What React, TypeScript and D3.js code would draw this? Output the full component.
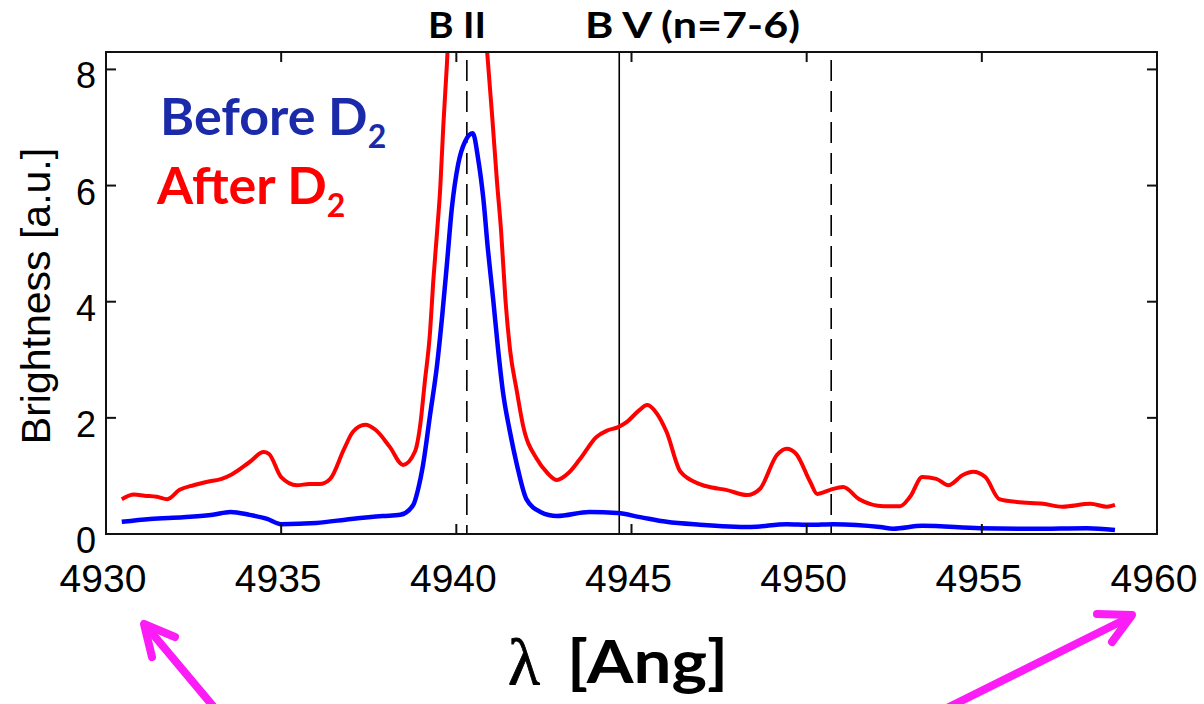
import React from "react";
import * as d3 from "d3";

const xTicks = [4930, 4935, 4940, 4945, 4950, 4955, 4960];
const yTicks = [0, 2, 4, 6, 8];

const redLambda = [4930.45, 4930.8, 4931.1, 4931.45, 4931.75, 4932.1, 4932.5, 4932.9, 4933.3, 4933.6, 4934.1, 4934.5, 4934.65, 4935.0, 4935.45, 4935.8, 4936.1, 4936.4, 4936.8, 4937.05, 4937.4, 4937.7, 4938.1, 4938.48, 4938.82, 4938.97, 4939.1, 4939.25, 4939.34, 4939.45, 4939.54, 4939.63, 4939.73, 4939.85, 4940.3, 4940.75, 4940.88, 4941.02, 4941.16, 4941.28, 4941.4, 4941.53, 4941.73, 4941.9, 4942.3, 4942.6, 4942.87, 4943.2, 4943.53, 4944.0, 4944.3, 4944.62, 4944.87, 4945.2, 4945.45, 4945.73, 4946.0, 4946.4, 4946.95, 4947.3, 4947.7, 4948.3, 4948.67, 4949.15, 4949.43, 4949.7, 4950.1, 4950.3, 4950.67, 4951.04, 4951.5, 4952.2, 4952.67, 4952.95, 4953.3, 4953.7, 4954.04, 4954.47, 4954.75, 4955.1, 4955.5, 4956.0, 4956.75, 4957.3, 4958.1, 4958.57, 4958.8];
const redValues = [0.60, 0.68, 0.66, 0.64, 0.60, 0.76, 0.84, 0.90, 0.95, 1.03, 1.24, 1.41, 1.38, 0.98, 0.84, 0.86, 0.86, 0.95, 1.47, 1.76, 1.88, 1.79, 1.50, 1.19, 1.42, 1.88, 2.62, 3.48, 4.34, 5.2, 5.95, 7.05, 8.08, 9.5, 11.0, 9.5, 8.3, 7.22, 6.07, 5.2, 4.05, 3.19, 2.45, 1.88, 1.29, 1.05, 0.93, 1.05, 1.29, 1.67, 1.78, 1.84, 1.93, 2.12, 2.22, 2.07, 1.76, 1.07, 0.86, 0.80, 0.76, 0.67, 0.78, 1.36, 1.47, 1.38, 0.90, 0.69, 0.76, 0.81, 0.60, 0.48, 0.48, 0.64, 0.98, 0.95, 0.84, 1.02, 1.07, 0.98, 0.60, 0.55, 0.52, 0.47, 0.52, 0.47, 0.50];

const blueLambda = [4930.45, 4931.26, 4932.2, 4933.05, 4933.55, 4934.1, 4934.6, 4935.0, 4936.0, 4937.0, 4937.9, 4938.4, 4938.77, 4938.9, 4939.05, 4939.25, 4939.45, 4939.6, 4939.73, 4939.87, 4940.05, 4940.25, 4940.47, 4940.62, 4940.77, 4940.9, 4941.05, 4941.19, 4941.33, 4941.53, 4941.73, 4942.0, 4942.4, 4942.87, 4943.8, 4944.6, 4945.25, 4946.0, 4946.95, 4948.4, 4949.43, 4950.1, 4950.76, 4952.1, 4952.47, 4953.3, 4954.95, 4956.47, 4958.0, 4958.8];
const blueValues = [0.21, 0.26, 0.29, 0.33, 0.38, 0.33, 0.26, 0.17, 0.19, 0.26, 0.31, 0.33, 0.50, 0.75, 1.19, 2.05, 2.91, 3.78, 4.64, 5.6, 6.36, 6.76, 6.9, 6.47, 5.78, 4.91, 4.05, 3.19, 2.45, 1.76, 1.19, 0.60, 0.38, 0.31, 0.38, 0.36, 0.29, 0.21, 0.16, 0.12, 0.17, 0.16, 0.17, 0.12, 0.09, 0.14, 0.10, 0.09, 0.10, 0.07];

const refLines = [4940.3, 4944.65, 4950.7];
const refDashed = [true, false, true];

const W = 1204;
const H = 704;
const left = 106;
const right = 1157;
const top = 52;
const bottom = 534;

export default function App() {
  const x = d3.scaleLinear().domain([4930, 4960]).range([left, right]);
  const y = d3.scaleLinear().domain([0, 8.3]).range([bottom, top]);

  const mk = (ls: number[], vs: number[]) =>
    d3
      .line<number>()
      .curve(d3.curveMonotoneX)
      .x((_, i) => x(ls[i]))
      .y((_, i) => y(vs[i]))(vs) as string;

  const redPath = mk(redLambda, redValues);
  const bluePath = mk(blueLambda, blueValues);

  const magenta = "#fb1cf6";

  return (
    <svg
      width={W}
      height={H}
      style={{ position: "absolute", left: 0, top: 0, background: "#fff" }}
    >
      <defs>
        <clipPath id="plotclip">
          <rect x={left} y={top} width={right - left} height={bottom - top} />
        </clipPath>
      </defs>

      {refLines.map((l, i) => (
        <line
          key={"r" + i}
          x1={x(l)}
          x2={x(l)}
          y1={refDashed[i] ? top + 8 : top}
          y2={bottom}
          stroke="#000"
          strokeWidth={1.6}
          strokeDasharray={refDashed[i] ? "21,10" : undefined}
        />
      ))}

      <g clipPath="url(#plotclip)">
        <path d={redPath} fill="none" stroke="#ff0000" strokeWidth={4} strokeLinejoin="round" />
        <path d={bluePath} fill="none" stroke="#0000ff" strokeWidth={4.5} strokeLinejoin="round" />
      </g>

      <rect x={left} y={top} width={right - left} height={bottom - top} fill="none" stroke="#111" strokeWidth={2} />

      {xTicks.map((t) => (
        <g key={"xt" + t}>
          <line x1={x(t)} x2={x(t)} y1={bottom} y2={bottom - 10} stroke="#111" strokeWidth={2} />
          <line x1={x(t)} x2={x(t)} y1={top} y2={top + 10} stroke="#111" strokeWidth={2} />
          <text
            x={x(t) - 3}
            y={592}
            textAnchor="middle"
            fontFamily="Liberation Sans, Arial, sans-serif"
            fontSize={39}
            fill="#000"
          >
            {t}
          </text>
        </g>
      ))}

      {yTicks.map((t) => (
        <g key={"yt" + t}>
          <line x1={left} x2={left + 10} y1={y(t)} y2={y(t)} stroke="#111" strokeWidth={2} />
          <line x1={right} x2={right - 10} y1={y(t)} y2={y(t)} stroke="#111" strokeWidth={2} />
          <text
            x={96}
            y={y(t) + 19}
            textAnchor="end"
            fontFamily="Liberation Sans, Arial, sans-serif"
            fontSize={36}
            fill="#000"
          >
            {t}
          </text>
        </g>
      ))}

      <text
        transform="translate(50,296) rotate(-90)"
        textAnchor="middle"
        fontFamily="Liberation Sans, Arial, sans-serif"
        fontSize={41}
        fill="#000"
      >
        Brightness [a.u.]
      </text>

      <text x={428} y={38} fontFamily="Lato, sans-serif" fontWeight="bold" fontSize={37} fill="#000"
        textLength={58} lengthAdjust="spacingAndGlyphs">
        B II
      </text>
      <text x={585} y={38} fontFamily="Lato, sans-serif" fontWeight="bold" fontSize={37} fill="#000"
        textLength={215} lengthAdjust="spacingAndGlyphs">
        B V (n=7-6)
      </text>

      <text x={160} y={135} fontFamily="Lato, sans-serif" fontWeight="bold" fontSize={52} fill="#1a2aa8">
        Before D
        <tspan fontSize={32} dy={13}>2</tspan>
      </text>
      <text x={157} y={204} fontFamily="Lato, sans-serif" fontWeight="bold" fontSize={52} fill="#ff0000">
        After D
        <tspan fontSize={32} dy={13}>2</tspan>
      </text>

      <text x={508} y={684} fontFamily="Liberation Serif, serif" fontSize={66} fill="#000"
        stroke="#000" strokeWidth={0.8}>
        λ
      </text>
      <text x={567} y={683} fontFamily="Lato, sans-serif" fontWeight="bold" fontSize={60} fill="#000"
        textLength={161} lengthAdjust="spacingAndGlyphs">
        [Ang]
      </text>

      <g stroke={magenta} strokeWidth={8} strokeLinecap="round" strokeLinejoin="round" fill="none">
        <line x1={218} x2={146} y1={712} y2={626} />
        <polyline points="175,637 144,624 152,657" />
        <line x1={935} x2={1128} y1={714} y2={618} />
        <polyline points="1097,614 1132,615 1112,642" />
      </g>
    </svg>
  );
}
